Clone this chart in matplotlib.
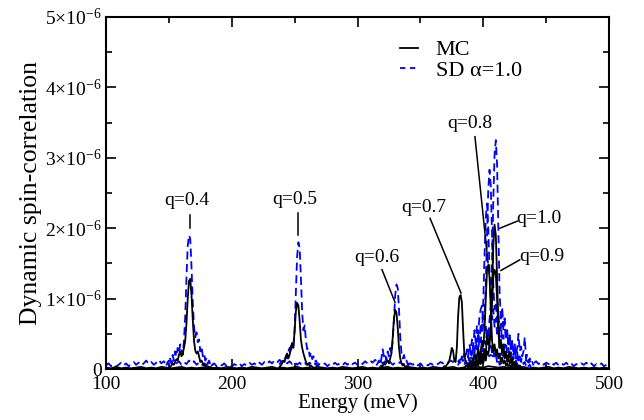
import numpy as np
import matplotlib
matplotlib.use("Agg")
import matplotlib.pyplot as plt
from matplotlib.ticker import MultipleLocator, FixedLocator, FixedFormatter

plt.rcParams['font.family'] = ['Liberation Serif', 'DejaVu Serif']
plt.rcParams['mathtext.fontset'] = 'custom'
plt.rcParams['mathtext.rm'] = 'Liberation Serif'
plt.rcParams['mathtext.it'] = 'Liberation Serif:italic'

# values in units of 1e-6, energies in meV
SCALE = 1e-6

# full-range noise floor (step 4 meV for MC, step 2 meV for SD)
mc_base_start, mc_base_step = 100, 4
mc_base = [
    0.02, 0.01, 0.03, 0.01, 0.02, 0.01, 0.02, 0.03, 0.01, 0.02,
    0.01, 0.03, 0.02, 0.01, 0.02, 0.03, 0.01, 0.02, 0.01, 0.02,
    0.03, 0.01, 0.02, 0.01, 0.03, 0.02, 0.01, 0.02, 0.01, 0.03,
    0.02, 0.01, 0.02, 0.03, 0.01, 0.02, 0.01, 0.02, 0.03, 0.01,
    0.02, 0.01, 0.03, 0.02, 0.01, 0.02, 0.01, 0.03, 0.02, 0.01,
    0.02, 0.03, 0.01, 0.02, 0.01, 0.02, 0.03, 0.01, 0.02, 0.01,
    0.03, 0.02, 0.01, 0.02, 0.01, 0.03, 0.02, 0.01, 0.02, 0.03,
    0.01, 0.02, 0.04, 0.02, 0.03, 0.02, 0.04, 0.03, 0.02, 0.03,
    0.02, 0.01, 0.02, 0.03, 0.01, 0.02, 0.01, 0.02, 0.03, 0.01,
    0.02, 0.01, 0.03, 0.02, 0.01, 0.02, 0.01, 0.02, 0.01, 0.02,
    0.01,
]
sd_base_start, sd_base_step = 100, 2
sd_base = [
    0.05, 0.08, 0.04, 0.07, 0.03, 0.06, 0.09, 0.05, 0.08, 0.04, 0.07, 0.10, 0.06, 0.09, 0.05, 0.08, 0.12, 0.07, 0.10, 0.06,
    0.09, 0.13, 0.08, 0.11, 0.07, 0.12, 0.09, 0.13, 0.08, 0.11, 0.06, 0.10, 0.07, 0.12, 0.08, 0.11, 0.06, 0.09, 0.05, 0.08,
    0.06, 0.09, 0.05, 0.08, 0.04, 0.07, 0.05, 0.08, 0.04, 0.06, 0.03, 0.07, 0.05, 0.08, 0.04, 0.07, 0.05, 0.09, 0.06, 0.08,
    0.05, 0.09, 0.06, 0.10, 0.07, 0.11, 0.08, 0.12, 0.09, 0.13, 0.10, 0.12, 0.08, 0.11, 0.07, 0.10, 0.06, 0.09, 0.05, 0.08,
    0.06, 0.09, 0.05, 0.08, 0.04, 0.07, 0.05, 0.08, 0.04, 0.07, 0.05, 0.09, 0.06, 0.08, 0.05, 0.09, 0.06, 0.10, 0.07, 0.09,
    0.06, 0.10, 0.07, 0.11, 0.08, 0.12, 0.09, 0.13, 0.10, 0.12, 0.08, 0.11, 0.07, 0.10, 0.06, 0.09, 0.07, 0.10, 0.06, 0.09,
    0.05, 0.08, 0.06, 0.09, 0.05, 0.08, 0.04, 0.07, 0.05, 0.08, 0.06, 0.09, 0.07, 0.10, 0.08, 0.11, 0.09, 0.12, 0.10, 0.13,
    0.11, 0.14, 0.12, 0.15, 0.13, 0.16, 0.14, 0.17, 0.15, 0.18, 0.16, 0.19, 0.17, 0.20, 0.18, 0.21, 0.19, 0.22, 0.18, 0.20,
    0.16, 0.19, 0.14, 0.17, 0.12, 0.15, 0.10, 0.13, 0.09, 0.12, 0.08, 0.11, 0.07, 0.10, 0.06, 0.09, 0.07, 0.10, 0.06, 0.09,
    0.05, 0.08, 0.06, 0.09, 0.05, 0.08, 0.04, 0.07, 0.05, 0.08, 0.06, 0.09, 0.05, 0.08, 0.04, 0.07, 0.05, 0.08, 0.04, 0.06,
    0.05,
]

# peak windows, 1 meV steps: (start energy, values)
mc_q04 = (150, [0.02, 0.03, 0.05, 0.08, 0.06, 0.10, 0.14, 0.12, 0.20, 0.25, 0.18, 0.22, 0.30, 0.40, 0.65, 1.00,
                1.25, 1.28, 1.05, 0.70, 0.40, 0.26, 0.22, 0.25, 0.18, 0.10, 0.12, 0.08, 0.05, 0.06, 0.03, 0.04,
                0.02, 0.03, 0.02, 0.01])
sd_q04 = (148, [0.05, 0.10, 0.06, 0.15, 0.08, 0.20, 0.12, 0.25, 0.18, 0.30, 0.22, 0.35, 0.28, 0.20, 0.40, 0.75,
                1.30, 1.75, 1.90, 1.85, 1.45, 0.95, 0.60, 0.45, 0.52, 0.38, 0.42, 0.25, 0.32, 0.18, 0.22, 0.12,
                0.16, 0.08, 0.12, 0.06, 0.09, 0.05])
mc_q05 = (238, [0.03, 0.05, 0.08, 0.12, 0.10, 0.18, 0.22, 0.15, 0.20, 0.32, 0.36, 0.30, 0.55, 0.82, 0.94, 0.90,
                0.68, 0.42, 0.30, 0.22, 0.16, 0.10, 0.06, 0.08, 0.04, 0.05, 0.03, 0.02])
sd_q05 = (238, [0.06, 0.10, 0.08, 0.14, 0.12, 0.18, 0.15, 0.25, 0.30, 0.22, 0.38, 0.32, 0.55, 1.10, 1.60, 1.80,
                1.72, 1.30, 0.80, 0.55, 0.62, 0.40, 0.28, 0.30, 0.18, 0.24, 0.14, 0.18, 0.10, 0.12, 0.06, 0.08,
                0.05])
mc_q06 = (318, [0.03, 0.05, 0.04, 0.08, 0.06, 0.10, 0.12, 0.08, 0.15, 0.22, 0.45, 0.72, 0.84, 0.80, 0.58, 0.30,
                0.15, 0.08, 0.05, 0.06, 0.03, 0.04, 0.02])
sd_q06 = (315, [0.05, 0.08, 0.12, 0.06, 0.15, 0.28, 0.18, 0.22, 0.12, 0.25, 0.18, 0.30, 0.22, 0.40, 0.70, 1.05,
                1.20, 1.15, 0.85, 0.45, 0.22, 0.15, 0.20, 0.10, 0.12, 0.06, 0.08, 0.04])
mc_q07 = (368, [0.02, 0.04, 0.03, 0.06, 0.08, 0.12, 0.20, 0.30, 0.26, 0.12, 0.10, 0.30, 0.75, 1.02, 1.05, 0.95,
                0.55, 0.20, 0.10, 0.06, 0.08, 0.04, 0.05, 0.03, 0.02])
sd_q07 = (380, [0.05, 0.12, 0.08, 0.18, 0.10, 0.22, 0.15, 0.28, 0.18, 0.35, 0.25, 0.42, 0.30, 0.55, 0.40, 0.62,
                0.50, 0.75, 0.85, 0.90, 0.70, 0.55, 0.62, 0.40, 0.48, 0.30, 0.35, 0.22, 0.28, 0.15, 0.20, 0.10,
                0.14, 0.06, 0.09, 0.04])
mc_q08 = (385, [0.02, 0.04, 0.06, 0.03, 0.08, 0.12, 0.06, 0.15, 0.22, 0.10, 0.18, 0.30, 0.15, 0.25, 0.40, 0.32,
                0.55, 1.00, 1.40, 1.48, 1.30, 0.85, 0.40, 0.25, 0.35, 0.20, 0.28, 0.15, 0.22, 0.10, 0.16, 0.08,
                0.12, 0.05, 0.08, 0.04, 0.06, 0.03, 0.04, 0.02])
sd_q08 = (385, [0.06, 0.12, 0.08, 0.18, 0.12, 0.25, 0.16, 0.30, 0.22, 0.40, 0.30, 0.52, 0.40, 0.65, 0.55, 0.80,
                0.70, 1.20, 1.90, 2.55, 2.83, 2.60, 1.90, 1.20, 0.85, 0.95, 0.70, 0.80, 0.55, 0.62, 0.40, 0.48,
                0.30, 0.38, 0.22, 0.30, 0.16, 0.24, 0.12, 0.18, 0.08, 0.12, 0.06, 0.08, 0.04, 0.05])
mc_q09 = (388, [0.02, 0.05, 0.03, 0.07, 0.05, 0.10, 0.06, 0.12, 0.08, 0.18, 0.10, 0.22, 0.14, 0.28, 0.18, 0.50,
                0.35, 0.42, 0.60, 0.95, 1.30, 1.41, 1.35, 1.00, 0.55, 0.30, 0.38, 0.22, 0.30, 0.15, 0.25, 0.12,
                0.20, 0.24, 0.10, 0.15, 0.06, 0.10, 0.04, 0.07, 0.03, 0.05, 0.02])
sd_q09 = (388, [0.05, 0.10, 0.07, 0.15, 0.10, 0.22, 0.15, 0.32, 0.25, 0.45, 0.38, 0.60, 0.95, 1.60, 2.15, 2.35,
                2.00, 1.40, 0.95, 0.70, 0.85, 0.60, 0.72, 0.50, 0.65, 0.45, 0.58, 0.88, 0.60, 0.72, 0.45, 0.55,
                0.35, 0.48, 0.30, 0.40, 0.25, 0.35, 0.20, 0.30, 0.50, 0.25, 0.32, 0.18, 0.25, 0.45, 0.15, 0.20,
                0.10, 0.15, 0.08, 0.10, 0.05])
mc_q10 = (390, [0.02, 0.04, 0.03, 0.06, 0.04, 0.08, 0.05, 0.10, 0.07, 0.14, 0.08, 0.18, 0.12, 0.25, 0.20, 0.35,
                0.60, 1.10, 1.75, 2.05, 1.90, 1.30, 0.65, 0.30, 0.42, 0.25, 0.35, 0.18, 0.22, 0.10, 0.15, 0.08,
                0.12, 0.05, 0.08, 0.03, 0.05, 0.02])
sd_q10 = (390, [0.05, 0.09, 0.06, 0.14, 0.09, 0.18, 0.12, 0.25, 0.18, 0.32, 0.25, 0.40, 0.35, 0.55, 0.48, 0.70,
                0.90, 1.50, 2.40, 3.05, 3.25, 2.90, 2.00, 1.10, 0.70, 0.80, 0.55, 0.68, 0.42, 0.55, 0.32, 0.45,
                0.28, 0.38, 0.20, 0.30, 0.15, 0.24, 0.12, 0.18, 0.10, 0.14, 0.07, 0.10, 0.05, 0.08, 0.04, 0.06,
                0.03])

mc_peaks = [mc_q04, mc_q05, mc_q06, mc_q07, mc_q08, mc_q09, mc_q10]
sd_peaks = [sd_q04, sd_q05, sd_q06, sd_q07, sd_q08, sd_q09, sd_q10]

# annotations: label, text position (E, value), leader from -> to
q_labels = ['q=0.4', 'q=0.5', 'q=0.6', 'q=0.7', 'q=0.8', 'q=1.0', 'q=0.9']
q_text_pos = [(164.4, 2.40), (250.3, 2.41), (315.5, 1.59), (352.5, 2.29), (389.5, 3.49), (426.5, 2.14), (428.5, 1.60)]
q_text_ha = ['center', 'center', 'center', 'center', 'center', 'left', 'left']
q_lead_from = [(166.8, 2.19), (252.7, 2.22), (319.5, 1.41), (357.7, 2.14), (393.4, 3.30), (427.0, 2.10), (429.0, 1.55)]
q_lead_to = [(166.8, 2.00), (252.7, 1.90), (329.8, 0.95), (382.3, 1.08), (403.8, 1.51), (413.3, 2.00), (414.1, 1.40)]

y_ticks = [0, 1, 2, 3, 4, 5]
y_ticklabels = ['0', r'$1{\times}10^{-6}$', r'$2{\times}10^{-6}$', r'$3{\times}10^{-6}$',
                r'$4{\times}10^{-6}$', r'$5{\times}10^{-6}$']
x_ticks = [100, 200, 300, 400, 500]


def energies(start, step, n):
    return start + step * np.arange(n)


fig = plt.figure(figsize=(6.44, 4.20), dpi=100)
ax = fig.add_axes([106 / 644, 1 - 369 / 420, 503 / 644, 352 / 420])

lw = 1.3
dash = (0, (4.5, 2.5))
# noise floors
ax.plot(energies(sd_base_start, sd_base_step, len(sd_base)), np.array(sd_base) * SCALE,
        color='#0000ff', lw=lw, linestyle=dash)
ax.plot(energies(mc_base_start, mc_base_step, len(mc_base)), np.array(mc_base) * SCALE,
        color='black', lw=lw)
# SD peaks under MC peaks
for start, vals in sd_peaks:
    ax.plot(energies(start, 1, len(vals)), np.array(vals) * SCALE, color='#0000ff', lw=lw, linestyle=dash)
for start, vals in mc_peaks:
    ax.plot(energies(start, 1, len(vals)), np.array(vals) * SCALE, color='black', lw=lw)

# legend proxies
ax.plot([], [], color='black', lw=lw, label='MC')
ax.plot([], [], color='#0000ff', lw=lw, linestyle=(0, (3, 2.5)), label='SD α=1.0')
handles, labels = ax.get_legend_handles_labels()
ax.legend(handles, labels, loc='upper left', bbox_to_anchor=(0.585, 0.935), frameon=False,
          fontsize=16, handlelength=0.8, handletextpad=0.8, borderaxespad=0, borderpad=0,
          labelspacing=0.0)

for lab, (tx, ty), ha, (x0, y0), (x1, y1) in zip(q_labels, q_text_pos, q_text_ha, q_lead_from, q_lead_to):
    ax.text(tx, ty * SCALE, lab, ha=ha, va='center', fontsize=14)
    ax.plot([x0, x1], [y0 * SCALE, y1 * SCALE], color='black', lw=1.1)

ax.set_xlim(100, 500)
ax.set_ylim(0, 5 * SCALE)
ax.xaxis.set_major_locator(FixedLocator(x_ticks))
ax.xaxis.set_minor_locator(MultipleLocator(50))
ax.yaxis.set_major_locator(FixedLocator([v * SCALE for v in y_ticks]))
ax.yaxis.set_major_formatter(FixedFormatter(y_ticklabels))
ax.yaxis.set_minor_locator(MultipleLocator(0.5 * SCALE))
ax.tick_params(which='both', direction='in', top=True, right=True, width=1.2, labelsize=14)
ax.tick_params(which='major', length=7)
ax.tick_params(which='minor', length=4)
ax.tick_params(axis='x', pad=5)
ax.tick_params(axis='y', pad=3)
for s in ax.spines.values():
    s.set_linewidth(1.5)

ax.set_xlabel('Energy (meV)', fontsize=15, labelpad=0)
ax.set_ylabel('Dynamic spin-correlation', fontsize=18.5, labelpad=2)

fig.savefig('out.png', dpi=100)
